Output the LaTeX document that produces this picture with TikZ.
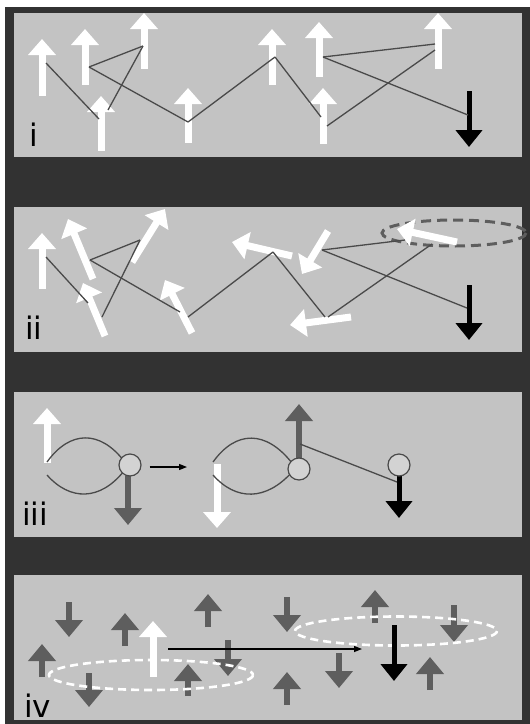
\documentclass[tikz,border=0pt]{standalone}
\usepackage{fontspec}
\setsansfont{DejaVu Sans}
\usetikzlibrary{arrows.meta}

\definecolor{framegray}{HTML}{323232}
\definecolor{panelgray}{HTML}{C3C3C3}
\definecolor{bondgray}{HTML}{4A4A4A}
\definecolor{spingray}{HTML}{5E5E5E}
\definecolor{ballgray}{HTML}{D3D3D3}

\begin{document}
\begin{tikzpicture}[x=1pt,y=-1pt,
	whitespin/.style={white,line width=7pt,-{Triangle[width=27pt,length=16pt]}},
	blackspin/.style={black,line width=5pt,-{Triangle[width=26pt,length=17pt]}},
	grayspin/.style={spingray,line width=5.5pt,-{Triangle[width=27pt,length=17pt]}},
	bond/.style={bondgray,line width=1.3pt},
	hop/.style={black,line width=1.3pt,-{Triangle[width=6pt,length=8pt]}},
	siteball/.style={circle,draw=bondgray,fill=ballgray,line width=1.2pt,minimum size=22pt,inner sep=0pt},
	cluster/.style={line width=2.6pt,dash pattern=on 8pt off 5pt},
	tag/.style={anchor=base west,inner sep=0pt,font=\fontsize{31}{31}\selectfont\sffamily}]

	% frame and panels
	\fill[white] (0,0) rectangle (530,724);
	\fill[framegray] (5,7) rectangle (530,724);
	\fill[panelgray] (14,13) rectangle (522,157);
	\fill[panelgray] (14,207) rectangle (522,352);
	\fill[panelgray] (14,392) rectangle (522,537);
	\fill[panelgray] (14,575) rectangle (522,720);

	% panel i
	\draw[whitespin] (42,96) -- (42,39);
	\draw[whitespin] (85,85) -- (85,29);
	\draw[whitespin] (144,69) -- (144,13);
	\draw[whitespin] (101,151) -- (101,96);
	\draw[whitespin] (188,143) -- (188,88);
	\draw[whitespin] (272,85) -- (272,29);
	\draw[whitespin] (319,77) -- (319,22);
	\draw[whitespin] (323,144) -- (323,88);
	\draw[whitespin] (438,69) -- (438,13);
	\draw[blackspin] (469,91) -- (469,147);

	\coordinate (a1) at (46,63);
	\coordinate (a2) at (89,67);
	\coordinate (a3) at (143,46);
	\coordinate (a4) at (99,119);
	\coordinate (a4b) at (108,110);
	\coordinate (a5) at (188,122);
	\coordinate (a6) at (275,57);
	\coordinate (a7) at (323,57);
	\coordinate (a8) at (321,117);
	\coordinate (a8b) at (327,126);
	\coordinate (a9) at (435,44);
	\coordinate (a9b) at (435,50);
	\coordinate (ab) at (468,115);

	\draw[bond] (a1) -- (a4);
	\draw[bond] (a2) -- (a3);
	\draw[bond] (a3) -- (a4b);
	\draw[bond] (a2) -- (a5);
	\draw[bond] (a5) -- (a6);
	\draw[bond] (a6) -- (a8);
	\draw[bond] (a7) -- (a9);
	\draw[bond] (a7) -- (ab);
	\draw[bond] (a8b) -- (a9b);

	\node[tag] (lab1) at (29,146) {i};

	% panel ii
	\draw[cluster,spingray,line width=3pt,dash pattern=on 10pt off 6pt] (454,233) ellipse (72 and 13);

	\draw[whitespin] (42,289) -- (42,233);
	\draw[whitespin] (93,279) -- (68,219);
	\draw[whitespin] (132,262) -- (165,209);
	\draw[whitespin] (105,336) -- (83,283);
	\draw[whitespin] (192,333) -- (165,280);
	\draw[whitespin] (292,256) -- (232,242);
	\draw[whitespin] (328,231) -- (302,274);
	\draw[whitespin] (351,317) -- (290,325);
	\draw[whitespin] (457,242) -- (397,229);
	\draw[blackspin] (469,285) -- (469,340);

	\coordinate (b1) at (46,257);
	\coordinate (b2) at (90,260);
	\coordinate (b3) at (140,240);
	\coordinate (b4) at (88,303);
	\coordinate (b4b) at (102,317);
	\coordinate (b5) at (180,312);
	\coordinate (b5b) at (188,317);
	\coordinate (b6) at (273,252);
	\coordinate (b7) at (322,250);
	\coordinate (b8) at (325,317);
	\coordinate (b8b) at (328,317);
	\coordinate (b9) at (405,240);
	\coordinate (b9b) at (432,244);
	\coordinate (bb) at (467,308);

	\draw[bond] (b1) -- (b4);
	\draw[bond] (b2) -- (b3);
	\draw[bond] (b3) -- (b4b);
	\draw[bond] (b2) -- (b5);
	\draw[bond] (b5b) -- (b6);
	\draw[bond] (b6) -- (b8);
	\draw[bond] (b7) -- (b9);
	\draw[bond] (b7) -- (bb);
	\draw[bond] (b8b) -- (b9b);

	\node[tag] (lab2) at (25,339) {ii};

	% panel iii
	\draw[whitespin] (47,463) -- (47,408);
	\draw[bond] (47,462) .. controls (70,430) and (100,430) .. (124,461);
	\draw[bond] (47,475) .. controls (70,501) and (100,501) .. (124,471);
	\draw[grayspin] (128,476) -- (128,525);
	\node[siteball] (c1) at (130,465) {};

	\draw[hop] (c1.east)+(8,2) coordinate (h1) -- (187,467) coordinate (h2);

	\draw[whitespin] (217,464) -- (217,528);
	\draw[bond] (213,462) .. controls (236,430) and (266,430) .. (292,463);
	\draw[bond] (213,475) .. controls (236,501) and (266,501) .. (292,472);
	\draw[grayspin] (299,460) -- (299,404);
	\node[siteball] (c2) at (299,469) {};

	\draw[blackspin] (399,474) -- (399,518);
	\node[siteball] (c3) at (399,465) {};
	\coordinate (g1) at (300,444);
	\coordinate (g2) at (397,482);
	\draw[bond] (g1) -- (g2);

	\node[tag] (lab3) at (22,525) {iii};

	% panel iv
	\draw[grayspin] (69,602) -- (69,637);
	\draw[grayspin] (125,646) -- (125,613);
	\draw[grayspin] (208,627) -- (208,594);
	\draw[grayspin] (42,677) -- (42,644);
	\draw[grayspin] (89,673) -- (89,707);
	\draw[grayspin] (188,696) -- (188,664);
	\draw[grayspin] (228,640) -- (228,676);
	\draw[grayspin] (287,597) -- (287,632);
	\draw[grayspin] (375,623) -- (375,590);
	\draw[grayspin] (454,605) -- (454,642);
	\draw[grayspin] (339,653) -- (339,688);
	\draw[grayspin] (287,705) -- (287,672);
	\draw[grayspin] (430,690) -- (430,657);
	\draw[whitespin] (153,677) -- (153,621);

	\draw[cluster,white] (151,675) ellipse (102 and 15);
	\draw[cluster,white] (396,631) ellipse (101 and 14.5);

	\draw[blackspin] (394,625) -- (394,681);

	\coordinate (f1) at (168,649);
	\coordinate (f2) at (362,649);
	\draw[hop] (f1) -- (f2);

	\node[tag] (lab4) at (24,717) {iv};

\end{tikzpicture}
\end{document}
